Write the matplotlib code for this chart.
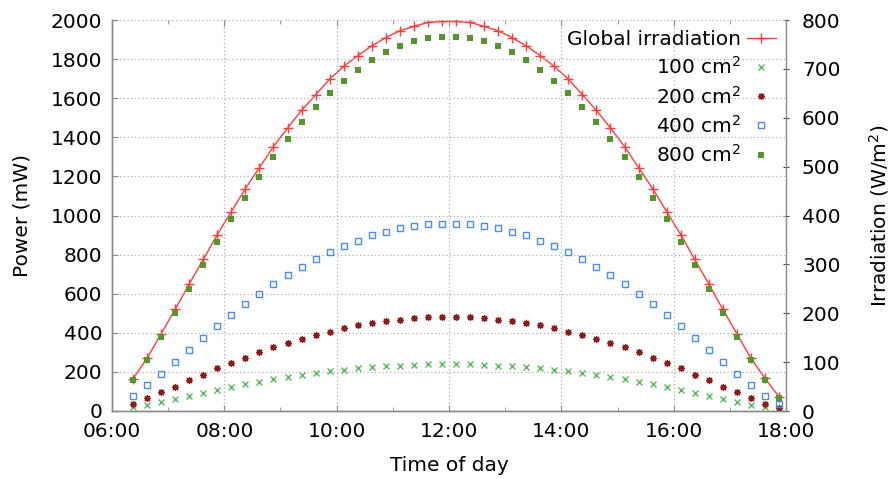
import matplotlib
matplotlib.use('Agg')
import matplotlib.pyplot as plt
from matplotlib.ticker import FixedLocator, FuncFormatter

# sample times (every 15 min, centred on noon)
times = [
    "06:22:30", "06:37:30", "06:52:30", "07:07:30", "07:22:30", "07:37:30",
    "07:52:30", "08:07:30", "08:22:30", "08:37:30", "08:52:30", "09:07:30",
    "09:22:30", "09:37:30", "09:52:30", "10:07:30", "10:22:30", "10:37:30",
    "10:52:30", "11:07:30", "11:22:30", "11:37:30", "11:52:30", "12:07:30",
    "12:22:30", "12:37:30", "12:52:30", "13:07:30", "13:22:30", "13:37:30",
    "13:52:30", "14:07:30", "14:22:30", "14:37:30", "14:52:30", "15:07:30",
    "15:22:30", "15:37:30", "15:52:30", "16:07:30", "16:22:30", "16:37:30",
    "16:52:30", "17:07:30", "17:22:30", "17:37:30", "17:52:30",
]

# global irradiation (W/m^2)
irradiation = [
    66, 108, 158, 208, 260, 310, 361, 408, 455, 498, 541, 579,
    615, 647, 679, 705, 727, 747, 764, 778, 787, 795, 797,
    797, 795, 787, 778, 764, 747, 727, 705, 679, 647, 615, 579,
    541, 498, 455, 408, 361, 310, 260, 208, 158, 108, 67, 29,
]

# output power (mW) per panel area
p100 = [
    20, 33, 48, 62, 78, 93, 109, 123, 136, 150, 163, 175,
    186, 193, 203, 210, 218, 225, 228, 232, 235, 238, 239,
    239, 238, 235, 232, 228, 225, 218, 210, 203, 193, 186, 175,
    163, 150, 136, 123, 109, 93, 78, 62, 48, 33, 20, 8,
]
p200 = [
    38, 65, 95, 124, 157, 184, 218, 247, 273, 300, 325, 346,
    370, 387, 406, 423, 438, 448, 460, 467, 474, 479, 479,
    479, 479, 474, 467, 460, 448, 438, 423, 406, 387, 370, 346,
    325, 300, 273, 247, 218, 184, 157, 124, 95, 65, 38, 16,
]
p400 = [
    77, 131, 189, 250, 312, 371, 433, 491, 545, 600, 651, 697,
    739, 775, 811, 845, 872, 898, 917, 935, 946, 954, 956,
    956, 954, 946, 935, 917, 898, 872, 845, 811, 775, 739, 697,
    651, 600, 545, 491, 433, 371, 312, 250, 189, 131, 77, 34,
]
p800 = [
    157, 261, 377, 499, 622, 745, 865, 981, 1089, 1196, 1298, 1392,
    1479, 1554, 1627, 1690, 1745, 1796, 1835, 1867, 1891, 1908, 1915,
    1915, 1908, 1891, 1867, 1835, 1796, 1745, 1690, 1627, 1554, 1479, 1392,
    1298, 1196, 1089, 981, 865, 745, 622, 499, 377, 261, 157, 66,
]


def to_hours(s):
    h, m, sec = (int(v) for v in s.split(":"))
    return h + m / 60 + sec / 3600


hours = [to_hours(t) for t in times]

FS = 14.5
SPINE = '#8a8a8a'
plt.rcParams['font.family'] = 'DejaVu Sans'
plt.rcParams['mathtext.fontset'] = 'dejavusans'

fig = plt.figure(figsize=(8.93, 4.79), dpi=100)
ax = fig.add_axes([112 / 893, 68 / 479, 674 / 893, 391 / 479])
ax2 = ax.twinx()
# power series drawn above the irradiation curve
ax.set_zorder(ax2.get_zorder() + 1)
ax.patch.set_visible(False)

l_irr, = ax2.plot(hours, irradiation, color='#ff3b3b', lw=1, marker='+',
                  ms=6.5, mew=1, label='Global irradiation')
h100, = ax.plot(hours, p100, ls='none', marker='x', ms=4, mew=1,
                color='#5cb85c', label='100 cm$^2$')
h200, = ax.plot(hours, p200, ls='none', marker=(8, 2, 0), ms=5, mew=0.9,
                color='#8b1c1c', label='200 cm$^2$')
h400, = ax.plot(hours, p400, ls='none', marker='s', ms=5, mew=1,
                mfc='none', mec='#4a8cf0', label='400 cm$^2$')
h800, = ax.plot(hours, p800, ls='none', marker='s', ms=5, mew=0,
                color='#54962e', label='800 cm$^2$')

ax.set_xlim(6, 18)
ax.set_ylim(0, 2000)
ax2.set_ylim(0, 800)

ax.xaxis.set_major_locator(FixedLocator(range(6, 19, 2)))
ax.xaxis.set_minor_locator(FixedLocator(range(7, 18, 2)))
ax.xaxis.set_major_formatter(FuncFormatter(lambda v, p: f"{int(v):02d}:00"))
ax.set_yticks(range(0, 2001, 200))
ax2.set_yticks(range(0, 801, 100))

ax.grid(True, which='major', ls=(0, (1, 2)), color='#b0b0b0', lw=0.9)

for a in (ax, ax2):
    a.spines['top'].set_visible(False)
    for s in a.spines.values():
        s.set_color(SPINE)
        s.set_linewidth(1)
ax.spines['right'].set_visible(False)

ax.tick_params(axis='x', which='both', direction='in', top=True,
               colors=SPINE, labelcolor='black', labelsize=FS, pad=8)
ax.tick_params(axis='x', which='major', length=4)
ax.tick_params(axis='x', which='minor', length=3)
ax.tick_params(axis='y', direction='in', length=4, colors=SPINE,
               labelcolor='black', labelsize=FS, pad=7)
ax2.tick_params(axis='y', direction='inout', length=5, colors='#444444',
                labelcolor='black', labelsize=FS, pad=9)

ax.set_xlabel('Time of day', fontsize=FS, labelpad=11)
ax.set_ylabel('Power (mW)', fontsize=FS, labelpad=14)
ax2.set_ylabel('Irradiation (W/m$^2$)', fontsize=FS, labelpad=19)

ax.legend(handles=[l_irr, h100, h200, h400, h800], loc='upper right',
          bbox_to_anchor=(1.0, 1.0), frameon=False, markerfirst=False,
          fontsize=FS, numpoints=1, handlelength=1.45, handletextpad=0.3,
          labelspacing=0.36, borderaxespad=0.2, borderpad=0.3)

fig.savefig('out.png', dpi=100)
